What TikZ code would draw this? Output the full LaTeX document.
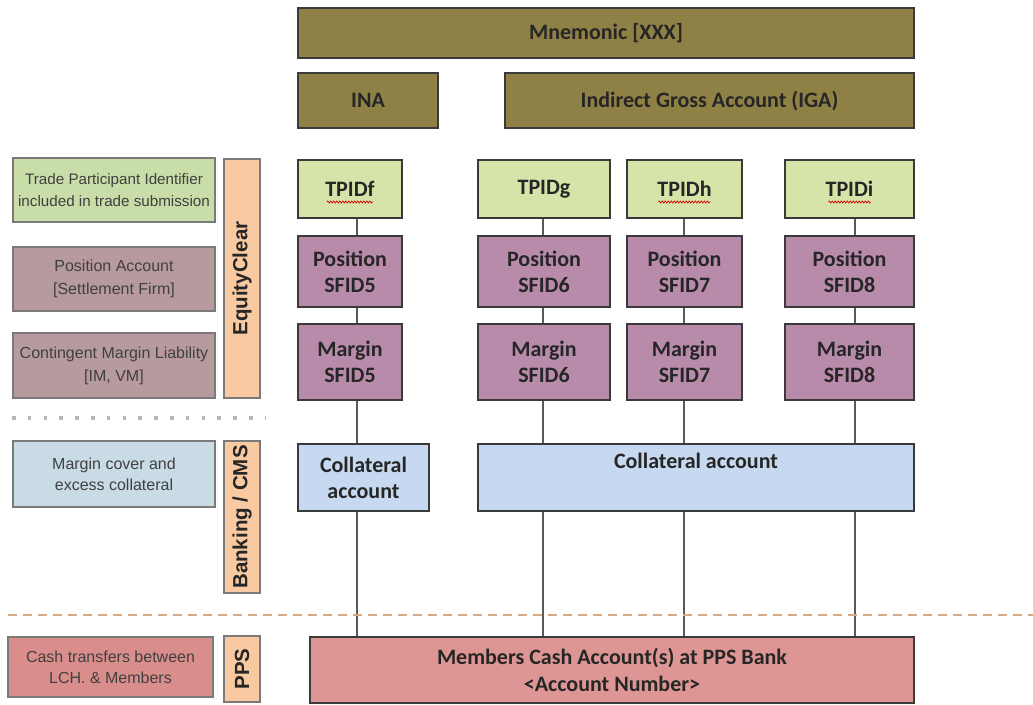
\documentclass[tikz,border=0pt]{standalone}
\usepackage{fontspec}
\setmainfont{Carlito}
\newfontfamily\legendfont{Liberation Sans}
\usetikzlibrary{decorations.pathmorphing}

\definecolor{cOlive}{HTML}{8F8045}
\definecolor{cTpid}{HTML}{D7E4A9}
\definecolor{cAcct}{HTML}{B98BAB}
\definecolor{cColl}{HTML}{C6D9F0}
\definecolor{cCash}{HTML}{DE9694}
\definecolor{cBand}{HTML}{F9C9A2}
\definecolor{cLegGreen}{HTML}{C9DDA9}
\definecolor{cLegMauve}{HTML}{B79A9D}
\definecolor{cLegBlue}{HTML}{C9DCE6}
\definecolor{cLegRed}{HTML}{D98E8C}
\definecolor{cBorder}{HTML}{3A3A3A}
\definecolor{cLegBorder}{HTML}{7A7A7A}
\definecolor{cLink}{HTML}{5A5A5A}
\definecolor{cDot}{HTML}{B8B8B8}
\definecolor{cDash}{HTML}{D6AA80}

\begin{document}
\begin{tikzpicture}[x=1pt,y=-1pt,
  acct/.style={draw=cBorder, line width=1.6pt, inner sep=0pt, align=center,
    font=\bfseries\fontsize{22}{26}\selectfont, text=black!85},
  legend/.style={draw=cLegBorder, line width=1.4pt, inner sep=0pt, align=center,
    font=\legendfont\fontsize{16}{21}\selectfont, text=black!75},
  band/.style={draw=cLegBorder, line width=1.4pt, fill=cBand, inner sep=0pt,
    rotate=90, minimum height=36, text=black!85,
    font=\legendfont\bfseries\fontsize{20.5}{22}\selectfont},
  link/.style={draw=cLink, line width=1.8pt},
  spell/.style={draw=red!85!black, line width=0.7pt, decorate,
    decoration={zigzag, segment length=3pt, amplitude=1pt}},
]
\fill[white] (0,0) rectangle (1033,704);
\useasboundingbox (0,0) rectangle (1033,704);

% account hierarchy header
\node[acct, fill=cOlive, minimum width=616, minimum height=50] (mnem) at (606,33) {Mnemonic [XXX]};
\node[acct, fill=cOlive, minimum width=140, minimum height=55] (ina) at (368,100.5) {INA};
\node[acct, fill=cOlive, minimum width=409, minimum height=55] (iga) at (709.5,100.5) {Indirect Gross Account (IGA)};

% column x positions of the connectors
\coordinate (colf) at (357,0);
\coordinate (colg) at (543,0);
\coordinate (colh) at (684,0);
\coordinate (coli) at (855,0);

% trade participant identifiers
\node[acct, fill=cTpid, minimum width=104, minimum height=58] (tpf) at (350,189) {TPIDf};
\node[acct, fill=cTpid, minimum width=132, minimum height=58] (tpg) at (544,189) {TPIDg};
\node[acct, fill=cTpid, minimum width=115, minimum height=58] (tph) at (684.5,189) {TPIDh};
\node[acct, fill=cTpid, minimum width=129, minimum height=58] (tpi) at (849.5,189) {TPIDi};

% spell-check underlines
\draw[spell] ([xshift=-23pt,yshift=-13pt]tpf.center) -- ([xshift=23pt,yshift=-13pt]tpf.center);
\draw[spell] ([xshift=-26pt,yshift=-13pt]tph.center) -- ([xshift=26pt,yshift=-13pt]tph.center);
\draw[spell] ([xshift=-21pt,yshift=-13pt]tpi.center) -- ([xshift=21pt,yshift=-13pt]tpi.center);

% position accounts
\node[acct, fill=cAcct, minimum width=104, minimum height=71] (posf) at (350,271.5) {Position\\SFID5};
\node[acct, fill=cAcct, minimum width=132, minimum height=71] (posg) at (544,271.5) {Position\\SFID6};
\node[acct, fill=cAcct, minimum width=115, minimum height=71] (posh) at (684.5,271.5) {Position\\SFID7};
\node[acct, fill=cAcct, minimum width=129, minimum height=71] (posi) at (849.5,271.5) {Position\\SFID8};

% margin accounts
\node[acct, fill=cAcct, minimum width=104, minimum height=76] (marf) at (350,362) {Margin\\SFID5};
\node[acct, fill=cAcct, minimum width=132, minimum height=76] (marg) at (544,362) {Margin\\SFID6};
\node[acct, fill=cAcct, minimum width=115, minimum height=76] (marh) at (684.5,362) {Margin\\SFID7};
\node[acct, fill=cAcct, minimum width=129, minimum height=76] (mari) at (849.5,362) {Margin\\SFID8};

% collateral accounts
\node[acct, fill=cColl, minimum width=131, minimum height=67] (collL) at (363.5,477.5) {Collateral\\account};
\node[acct, fill=cColl, minimum width=436, minimum height=67] (collR) at (696,477.5) {Collateral account\\\strut};

% cash account
\node[acct, fill=cCash, minimum width=604, minimum height=66] (cash) at (612,670)
  {Members Cash Account(s) at PPS Bank\\[1pt]<Account Number>};

% connectors
\foreach \c in {f,g,h,i}{
  \draw[link] (tp\c.south -| col\c) -- (pos\c.north -| col\c);
  \draw[link] (pos\c.south -| col\c) -- (mar\c.north -| col\c);
}
\draw[link] (marf.south -| colf) -- (collL.north -| colf);
\draw[link] (collL.south -| colf) -- (cash.north -| colf);
\foreach \c in {g,h,i}{
  \draw[link] (mar\c.south -| col\c) -- (collR.north -| col\c);
  \draw[link] (collR.south -| col\c) -- (cash.north -| col\c);
}

% legend column
\node[legend, fill=cLegGreen, minimum width=202, minimum height=64,
  font=\legendfont\fontsize{15.2}{20}\selectfont] (lgTrade) at (114,190)
  {Trade Participant Identifier\\[2pt]included in trade submission};
\node[legend, fill=cLegMauve, minimum width=202, minimum height=64] (lgPos) at (114,279)
  {Position Account\\[2pt]{[}Settlement Firm{]}};
\node[legend, fill=cLegMauve, minimum width=202, minimum height=65] (lgMargin) at (114,365.5)
  {Contingent Margin Liability\\[2pt]{[}IM, VM{]}};
\node[legend, fill=cLegBlue, minimum width=202, minimum height=66] (lgCover) at (114,474)
  {Margin cover and\\excess collateral};
\node[legend, fill=cLegRed, minimum width=205, minimum height=60] (lgCash) at (110.5,667)
  {Cash transfers between\\LCH. \& Members};

% system bands
\node[band, minimum width=239] (bEquity) at (242,278.5) {EquityClear};
\node[band, minimum width=152] (bBank) at (242,517) {Banking / CMS};
\node[band, minimum width=66] (bPps) at (242,669) {PPS};

% separators
\coordinate (dotL) at (12,418);
\coordinate (dotR) at (266,418);
\draw[cDot, line width=3.5pt, dash pattern=on 3.5pt off 12.3pt] (dotL) -- (dotR);
\coordinate (dashL) at (8,615);
\coordinate (dashR) at (1033,615);
\draw[cDash, line width=2pt, dash pattern=on 9pt off 6pt] (dashL) -- (dashR);
\end{tikzpicture}
\end{document}
